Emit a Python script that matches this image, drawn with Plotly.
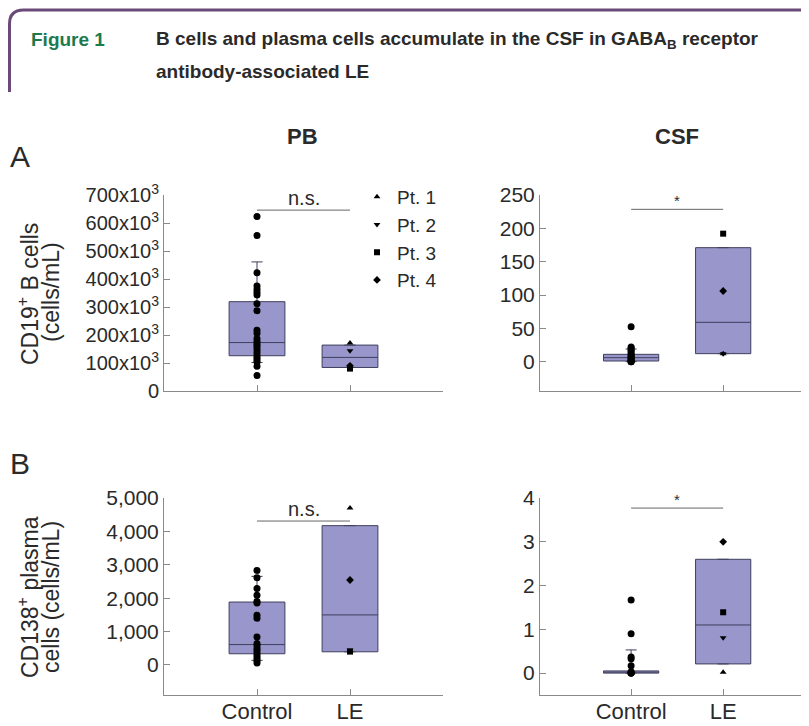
import plotly.graph_objects as go
from plotly.subplots import make_subplots

# page body has an 8px margin: figure is shifted by (OX, OY) on screen
OX, OY = 8, 8
SW, SH = 809, 726
W, H = SW - OX, SH - OY

categories = ["Control", "LE"]
patients = ["Pt. 1", "Pt. 2", "Pt. 3", "Pt. 4"]
patient_symbols = ["triangle-up", "triangle-down", "square", "diamond"]

# Panel A left: PB CD19+ B cells (cells/mL)
pb_cd19_control = [623e3, 555e3, 422e3, 375e3, 363e3, 353e3, 343e3, 312e3, 287e3, 217e3,
                   206e3, 187e3, 176e3, 167e3, 159e3, 149e3, 139e3, 129e3, 120e3, 112e3,
                   104e3, 88e3, 55e3]
pb_cd19_le = [171e3, 144e3, 80e3, 90e3]
pb_cd19_q1 = [126e3, 84e3]
pb_cd19_median = [173e3, 120e3]
pb_cd19_q3 = [319e3, 164e3]
pb_cd19_low = [102e3, 84e3]
pb_cd19_high = [461e3, 164e3]

# Panel A right: CSF CD19+ B cells
csf_cd19_control = [52.5, 22, 20, 17, 15, 12, 10, 8, 6, 5, 3, 2, 1, 0, 0]
csf_cd19_le = [12, 12, 192, 106]
csf_cd19_q1 = [1, 12]
csf_cd19_median = [6, 59]
csf_cd19_q3 = [11, 171]
csf_cd19_low = [0, 12]
csf_cd19_high = [19, 171]

# Panel B left: PB CD138+ plasma cells
pb_cd138_control = [2830, 2613, 2288, 2091, 1903, 1854, 1489, 1400, 838, 641, 572, 493,
                    424, 345, 266, 197, 128, 59]
pb_cd138_le = [4704, 450, 400, 2544]
pb_cd138_q1 = [335, 394]
pb_cd138_median = [611, 1499]
pb_cd138_q3 = [1884, 4172]
pb_cd138_low = [138, 394]
pb_cd138_high = [2653, 4172]

# Panel B right: CSF CD138+ plasma cells
csf_cd138_control = [1.67, 0.9, 0.37, 0.33, 0.17, 0.03, 0, 0, 0, 0]
csf_cd138_le = [0.02, 0.81, 1.39, 3.0]
csf_cd138_q1 = [0, 0.21]
csf_cd138_median = [0.02, 1.10]
csf_cd138_q3 = [0.05, 2.6]
csf_cd138_low = [0, 0.21]
csf_cd138_high = [0.53, 2.6]

# significance bars: label and level
sig_labels = ["n.s.", "*", "n.s.", "*"]
sig_levels = [646e3, 228.5, 4310, 3.77]

# y tick values / labels
pb_cd19_ticks = [0, 100e3, 200e3, 300e3, 400e3, 500e3, 600e3, 700e3]
pb_cd19_ticktext = ["0"] + [f"{k}x10<sup>3</sup>" for k in range(100, 800, 100)]
csf_cd19_ticks = [0, 50, 100, 150, 200, 250]
pb_cd138_ticks = [0, 1000, 2000, 3000, 4000, 5000]
pb_cd138_ticktext = ["0", "1,000", "2,000", "3,000", "4,000", "5,000"]
csf_cd138_ticks = [0, 1, 2, 3, 4]

panels = [
    dict(row=1, col=1, ctrl=pb_cd19_control, le=pb_cd19_le, q1=pb_cd19_q1, med=pb_cd19_median,
         q3=pb_cd19_q3, lo=pb_cd19_low, hi=pb_cd19_high),
    dict(row=1, col=2, ctrl=csf_cd19_control, le=csf_cd19_le, q1=csf_cd19_q1, med=csf_cd19_median,
         q3=csf_cd19_q3, lo=csf_cd19_low, hi=csf_cd19_high),
    dict(row=2, col=1, ctrl=pb_cd138_control, le=pb_cd138_le, q1=pb_cd138_q1, med=pb_cd138_median,
         q3=pb_cd138_q3, lo=pb_cd138_low, hi=pb_cd138_high),
    dict(row=2, col=2, ctrl=csf_cd138_control, le=csf_cd138_le, q1=csf_cd138_q1, med=csf_cd138_median,
         q3=csf_cd138_q3, lo=csf_cd138_low, hi=csf_cd138_high),
]

BOX_FILL = "#9896ca"
BOX_LINE = "#3f3f5e"
AXIS = "#8a8a8a"
TXT = "#2a2a2a"
FONT = "Liberation Sans, Arial, sans-serif"

fig = make_subplots(rows=2, cols=2)

for i, p in enumerate(panels):
    r, c = p["row"], p["col"]
    fig.add_trace(go.Box(
        x=categories, q1=p["q1"], median=p["med"], q3=p["q3"],
        lowerfence=p["lo"], upperfence=p["hi"],
        fillcolor=BOX_FILL, line=dict(color=BOX_LINE, width=1),
        width=0.6, whiskerwidth=0.2, boxpoints=False, showlegend=False,
        hoverinfo="skip"), row=r, col=c)
    fig.add_trace(go.Scatter(
        x=["Control"] * len(p["ctrl"]), y=p["ctrl"], mode="markers",
        marker=dict(color="black", size=7, symbol="circle"),
        showlegend=False, hoverinfo="skip"), row=r, col=c)
    for k, (name, sym) in enumerate(zip(patients, patient_symbols)):
        fig.add_trace(go.Scatter(
            x=["LE"], y=[p["le"][k]], mode="markers", name=name,
            legendgroup=name, showlegend=(i == 0),
            marker=dict(color="black", size=6, symbol=sym),
            hoverinfo="skip"), row=r, col=c)


# screen-pixel helpers
def fx(x):
    return (x - OX) / W


def fy(y):
    return 1 - (y - OY) / H


xdom_left = [fx(164), fx(443)]
xdom_right = [fx(540), fx(806)]
ydom_top = [fy(391), fy(195)]
ydom_bot = [fy(695), fy(498)]

axis_common = dict(showline=True, linecolor=AXIS, linewidth=1, ticks="inside", ticklen=6,
                   tickcolor=AXIS, showgrid=False, zeroline=False, automargin=False,
                   tickfont=dict(family=FONT, size=21, color=TXT))

for (r, c, xd, yd) in [(1, 1, xdom_left, ydom_top), (1, 2, xdom_right, ydom_top),
                       (2, 1, xdom_left, ydom_bot), (2, 2, xdom_right, ydom_bot)]:
    fig.update_xaxes(axis_common, domain=xd, type="category", categoryorder="array",
                     categoryarray=categories,
                     range=[-1, 2] if c == 1 else [-0.99, 1.9],
                     showticklabels=(r == 2), ticklabelstandoff=-3,
                     tickfont=dict(family=FONT, size=22, color=TXT), row=r, col=c)
    fig.update_yaxes(axis_common, domain=yd, row=r, col=c)

fig.update_yaxes(range=[0, 700e3], tickvals=pb_cd19_ticks, ticktext=pb_cd19_ticktext,
                 tickfont=dict(family=FONT, size=20, color=TXT), row=1, col=1)
fig.update_yaxes(range=[-44, 250], tickvals=csf_cd19_ticks, row=1, col=2)
fig.update_yaxes(range=[-900, 5000], tickvals=pb_cd138_ticks, ticktext=pb_cd138_ticktext, row=2, col=1)
fig.update_yaxes(range=[-0.5, 4], tickvals=csf_cd138_ticks, row=2, col=2)

# significance bars
axis_refs = [("x", "y"), ("x2", "y2"), ("x3", "y3"), ("x4", "y4")]
for (xr, yr), lab, lev in zip(axis_refs, sig_labels, sig_levels):
    fig.add_shape(type="line", xref=xr, yref=yr, x0=0, x1=1, y0=lev, y1=lev,
                  line=dict(color="#666666", width=1))
    fig.add_annotation(xref=xr, yref=yr, x=0.5, y=lev, text=lab, showarrow=False,
                       yanchor="bottom", yshift=-1 if lab == "n.s." else -2,
                       font=dict(family=FONT, size=20 if lab == "n.s." else 15, color=TXT))


def ann(x, y, text, size, color=TXT, bold=False, angle=0, xanchor="center", family=FONT):
    t = f"<b>{text}</b>" if bold else text
    fig.add_annotation(xref="paper", yref="paper", x=fx(x), y=fy(y), text=t,
                       showarrow=False, xanchor=xanchor, yanchor="middle", textangle=angle,
                       font=dict(family=family, size=size, color=color))


HDR = "Liberation Sans, Arial, sans-serif"
ann(29, 40, "Figure 1", 19, color="#1b7a4e", bold=True, xanchor="left", family=HDR)
ann(154, 40, "B cells and plasma cells accumulate in the CSF in GABA<sub>B</sub> receptor", 19,
    bold=True, xanchor="left", family=HDR)
ann(154, 72, "antibody-associated LE", 19, bold=True, xanchor="left", family=HDR)

ann(302, 137, "PB", 22, bold=True)
ann(677, 137, "CSF", 22, bold=True)
ann(20, 157, "A", 30)
ann(20, 463, "B", 30)

ann(28, 294, "CD19<sup>+</sup> B cells", 23, angle=-90)
ann(51, 292, "(cells/mL)", 23, angle=-90)
ann(28, 597, "CD138<sup>+</sup> plasma", 23, angle=-90)
ann(51, 597, "cells (cells/mL)", 23, angle=-90)

# header frame (rounded top-left corner)
x0 = 1.5 / W
yb = fy(92)
yt = fy(10)
rx = 14 / W
ry = 14 / H
fig.add_shape(type="path", xref="paper", yref="paper",
              path=f"M {x0},{yb} L {x0},{yt - ry} Q {x0},{yt} {x0 + rx},{yt} L 1.0,{yt}",
              line=dict(color="#6b4a7a", width=3))

fig.update_layout(
    template="none",
    width=W, height=H, margin=dict(l=0, r=0, t=0, b=0, pad=0, autoexpand=False),
    paper_bgcolor="white", plot_bgcolor="white",
    font=dict(family=FONT, color=TXT),
    legend=dict(x=fx(357), y=fy(178), xanchor="left", yanchor="top",
                bgcolor="rgba(0,0,0,0)", font=dict(family=FONT, size=19, color=TXT),
                itemwidth=30, tracegroupgap=0),
)

fig.write_html("out.html")
